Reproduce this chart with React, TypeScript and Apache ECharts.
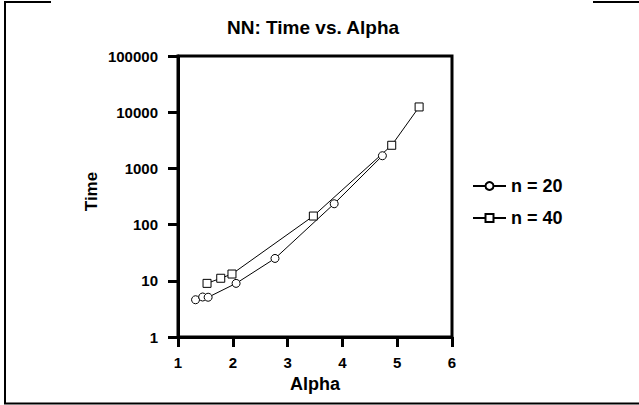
import React, { useEffect, useRef } from "react";
import * as echarts from "echarts";

const alphaN20 = [1.32, 1.45, 1.55, 2.06, 2.77, 3.85, 4.73];
const timeN20 = [4.6, 5.15, 5.1, 9.0, 25, 235, 1680];
const alphaN40 = [1.53, 1.78, 1.985, 3.47, 4.9, 5.4];
const timeN40 = [9.0, 11.1, 13.2, 142, 2580, 12400];
const seriesNames = ["n = 20", "n = 40"];
const titleText = "NN: Time vs. Alpha";
const xName = "Alpha";
const yName = "Time";

const FONT = "'Liberation Sans', Arial, Helvetica, sans-serif";

export default function App() {
  const ref = useRef<HTMLDivElement>(null);
  useEffect(() => {
    document.body.style.margin = "0";
    const chart = echarts.init(ref.current!, null, { renderer: "svg" });
    const pair = (xs: number[], ys: number[]) => xs.map((x, i) => [x, ys[i]]);
    const lineStyle = { color: "#000", width: 1 };
    const itemStyle = { color: "#fff", borderColor: "#000", borderWidth: 1 };
    chart.setOption({
      animation: false,
      backgroundColor: "#fff",
      title: {
        text: titleText,
        left: 222,
        top: 13,
        textStyle: { fontFamily: FONT, fontWeight: "bold", fontSize: 19, color: "#000" },
      },
      grid: {
        left: 178,
        right: 187,
        top: 56,
        bottom: 68,
        show: true,
        borderColor: "#000",
        borderWidth: 3,
        containLabel: false,
      },
      legend: {
        orient: "vertical",
        left: 467,
        top: 171,
        itemWidth: 33,
        itemHeight: 10,
        itemGap: 12,
        selectedMode: false,
        textStyle: { fontFamily: FONT, fontWeight: "bold", fontSize: 18, color: "#000", lineHeight: 20 },
        data: seriesNames,
      },
      xAxis: {
        type: "value",
        min: 1,
        max: 6,
        interval: 1,
        name: xName,
        nameLocation: "middle",
        nameGap: 38,
        nameTextStyle: { fontFamily: FONT, fontWeight: "bold", fontSize: 18, color: "#000" },
        axisLine: { lineStyle: { color: "#000", width: 3 } },
        axisTick: { show: true, inside: false, length: 10, lineStyle: { color: "#000", width: 3 } },
        axisLabel: { margin: 18, fontFamily: FONT, fontWeight: "bold", fontSize: 15, color: "#000" },
        splitLine: { show: false },
      },
      yAxis: {
        type: "log",
        logBase: 10,
        min: 1,
        max: 100000,
        name: yName,
        nameLocation: "middle",
        nameGap: 78,
        nameTextStyle: { fontFamily: FONT, fontWeight: "bold", fontSize: 17, color: "#000", padding: [0, 0, 0, 10] },
        axisLine: { show: true, lineStyle: { color: "#000", width: 3 } },
        axisTick: { show: true, inside: false, length: 10, lineStyle: { color: "#000", width: 3 } },
        axisLabel: {
          margin: 20,
          fontFamily: FONT,
          fontWeight: "bold",
          fontSize: 15,
          color: "#000",
          formatter: (v: number) => String(Math.round(v)),
        },
        splitLine: { show: false },
        minorTick: { show: false },
      },
      series: [
        {
          name: seriesNames[0],
          type: "line",
          data: pair(alphaN20, timeN20),
          symbol: "circle",
          symbolSize: 8,
          lineStyle,
          itemStyle,
          z: 3,
        },
        {
          name: seriesNames[1],
          type: "line",
          data: pair(alphaN40, timeN40),
          symbol: "rect",
          symbolSize: 8,
          lineStyle,
          itemStyle,
          z: 3,
        },
      ],
      graphic: [
        { type: "line", shape: { x1: 5, y1: 1, x2: 5, y2: 404 }, style: { stroke: "#000", lineWidth: 2 } },
        { type: "line", shape: { x1: 4, y1: 2, x2: 51, y2: 2 }, style: { stroke: "#000", lineWidth: 2 } },
        { type: "line", shape: { x1: 593, y1: 2, x2: 639, y2: 2 }, style: { stroke: "#000", lineWidth: 2 } },
        { type: "line", shape: { x1: 4, y1: 403.5, x2: 639, y2: 403.5 }, style: { stroke: "#000", lineWidth: 2 } },
      ],
    });
    return () => chart.dispose();
  }, []);
  return <div ref={ref} style={{ position: "absolute", left: 0, top: 0, width: 639, height: 405 }} />;
}
